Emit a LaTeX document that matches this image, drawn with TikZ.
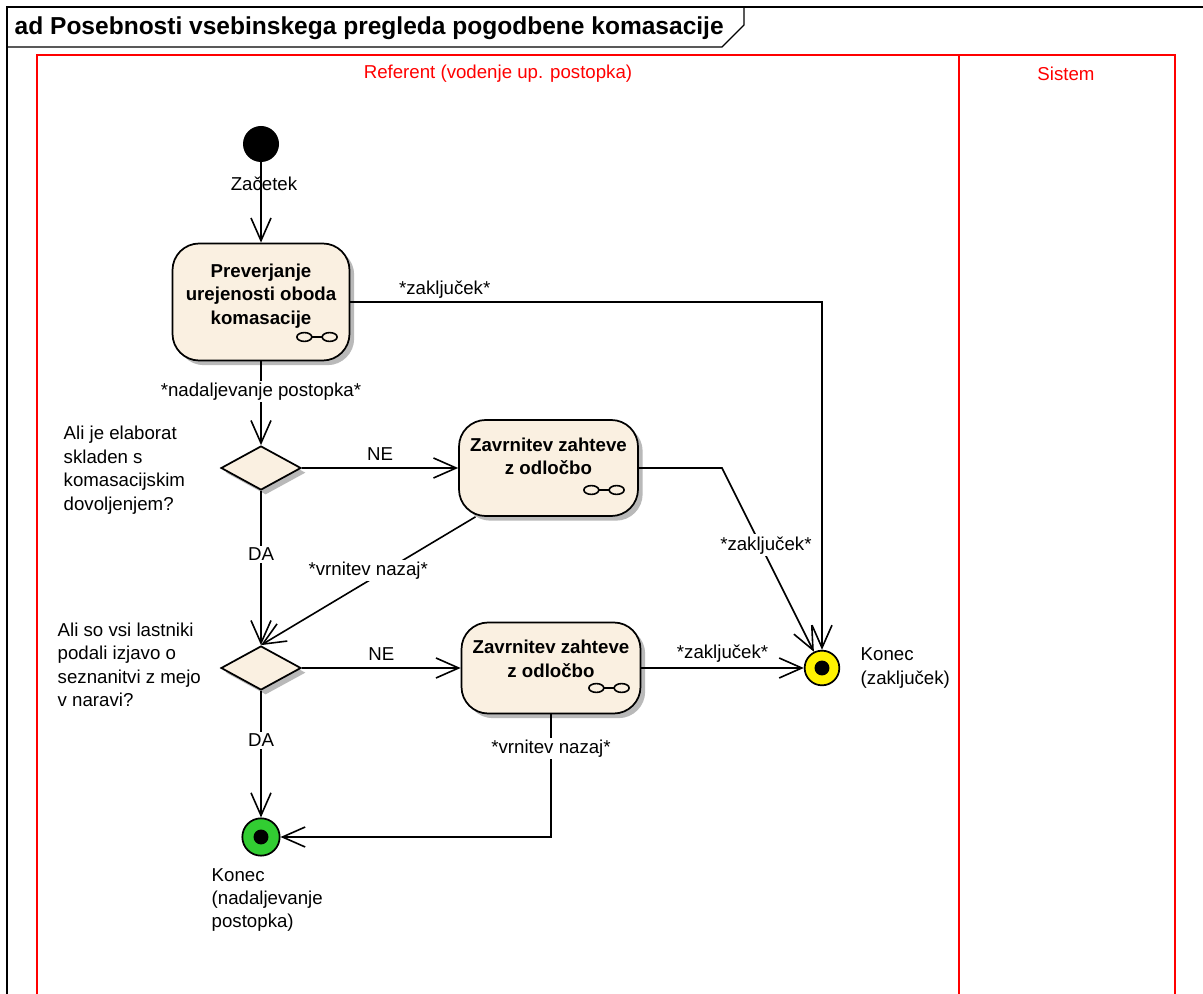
\documentclass[tikz,border=0pt]{standalone}
\usepackage{fontspec}
\setmainfont{Liberation Sans}
\usetikzlibrary{arrows.meta,shapes.geometric,shadows}

\definecolor{actfill}{RGB}{250,240,225}
\definecolor{shadowgray}{RGB}{185,185,185}
\definecolor{lanered}{RGB}{255,0,0}
\definecolor{endgreen}{RGB}{50,205,50}

\tikzset{
  every node/.style={font=\fontsize{14}{17.6}\selectfont},
  flow/.style={line width=1.2pt,-{Straight Barb[length=17pt,width=15pt]}},
  action/.style={draw,line width=1.3pt,rounded corners=20pt,fill=actfill,
    drop shadow={shadow xshift=3.5pt,shadow yshift=-3.5pt,fill=shadowgray,opacity=1}},
  acttext/.style={align=center,font=\fontsize{14}{17.6}\selectfont\bfseries},
  decision/.style={diamond,draw,line width=1.3pt,fill=actfill,inner sep=0pt,
    minimum width=60pt,minimum height=33pt,
    drop shadow={shadow xshift=3.5pt,shadow yshift=-3.5pt,fill=shadowgray,opacity=1}},
  startnode/.style={circle,fill=black,minimum size=27pt,inner sep=0pt},
  endnode/.style={circle,draw,line width=1.3pt,minimum size=26pt,inner sep=0pt,
    path picture={\fill[black] (path picture bounding box.center) circle (5.6pt);}},
  elabel/.style={fill=white,inner sep=1.5pt},
  lane/.style={draw=lanered,line width=1.4pt},
  lanehead/.style={text=lanered},
  rake/.pic={
    \draw[line width=1.2pt] (-9.5pt,0pt) ellipse [x radius=5.6pt,y radius=3.3pt];
    \draw[line width=1.2pt] (9.5pt,0pt) ellipse [x radius=5.6pt,y radius=3.3pt];
    \draw[line width=1.2pt] (-3.9pt,0pt) -- (3.9pt,0pt);
  }
}

\begin{document}
\begin{tikzpicture}[x=0.75pt,y=-0.75pt]
  \clip (0,0) rectangle (1203,994);
  \fill[white] (0,0) rectangle (1203,994);

  % frame with title tab
  \draw[line width=1pt] (7,1000) -- (7,7) -- (1210,7);
  \draw[line width=1pt] (7,47) -- (722,47) -- (744,25) -- (744,7);
  \node[anchor=west,font=\fontsize{18.4}{20}\selectfont\bfseries] (title) at (10,28)
    {ad Posebnosti vsebinskega pregleda pogodbene komasacije};

  % swimlanes
  \draw[lane] (37,55) rectangle (1175,1010);
  \draw[lane] (959,55) -- (959,1010);
  \node[lanehead] (referent) at (498,74) {Referent (vodenje up. postopka)};
  \node[lanehead] (sistem) at (1066,74) {Sistem};

  % start
  \node[startnode] (start) at (261,144) {};
  \node (zacetek) at (264,184) {Začetek};

  % actions
  \node[action,minimum width=132.75pt,minimum height=87.75pt] (a1) at (261,302) {};
  \node[acttext] (a1t) at (261,296) {Preverjanje\\urejenosti oboda\\komasacije};
  \pic at (317,337) {rake};

  \node[action,minimum width=134.25pt,minimum height=72pt] (a2) at (548.5,468) {};
  \node[acttext] (a2t) at (548.5,456.5) {Zavrnitev zahteve\\z odločbo};
  \pic at (604,490) {rake};

  \node[action,minimum width=134.25pt,minimum height=68.25pt] (a3) at (551,668) {};
  \node[acttext] (a3t) at (551,659) {Zavrnitev zahteve\\z odločbo};
  \pic at (609,688) {rake};

  % decisions
  \node[decision] (d1) at (261,468) {};
  \node[anchor=west,align=left] (q1) at (59,470)
    {Ali je elaborat\\skladen s\\komasacijskim\\dovoljenjem?};
  \node[decision] (d2) at (261,668) {};
  \node[anchor=west,align=left] (q2) at (53,665)
    {Ali so vsi lastniki\\podali izjavo o\\seznanitvi z mejo\\v naravi?};

  % final states
  \node[endnode,fill=yellow] (endY) at (822,668) {};
  \node[anchor=west,align=left] (konecY) at (856,668) {Konec\\(zaključek)};
  \node[endnode,fill=endgreen,minimum size=28pt] (endG) at (261,837) {};
  \node[anchor=west,align=left] (konecG) at (207,900) {Konec\\(nadaljevanje\\postopka)};

  \coordinate (bend1) at (722,468);

  % flows
  \draw[flow] (start) -- (a1);
  \draw[flow] (a1.east) -| node[pos=.1,above,inner sep=2pt] {*zaključek*} (endY.north);
  \draw[flow] (a1) -- node[elabel,pos=.36] {*nadaljevanje postopka*} (d1);
  \draw[flow] (d1) -- node[above,yshift=2pt] {NE} (a2);
  \draw[flow] (d1) -- node[elabel,pos=.41] {DA} (d2);
  \draw[flow] ([xshift=13pt]a2.south west) -- node[elabel,pos=.5,yshift=8pt] {*vrnitev nazaj*} (d2.north);
  \draw[flow] (a2.east) -- (bend1) -- node[elabel,pos=.42,xshift=4pt] {*zaključek*} (endY);
  \draw[flow] (d2) -- node[above,yshift=2pt] {NE} (a3);
  \draw[flow] (a3) -- node[above] {*zaključek*} (endY);
  \draw[flow] (d2) -- node[elabel,pos=.39] {DA} (endG);
  \draw[flow] (a3.south) |- node[elabel,pos=.14] {*vrnitev nazaj*} (endG);
\end{tikzpicture}
\end{document}
